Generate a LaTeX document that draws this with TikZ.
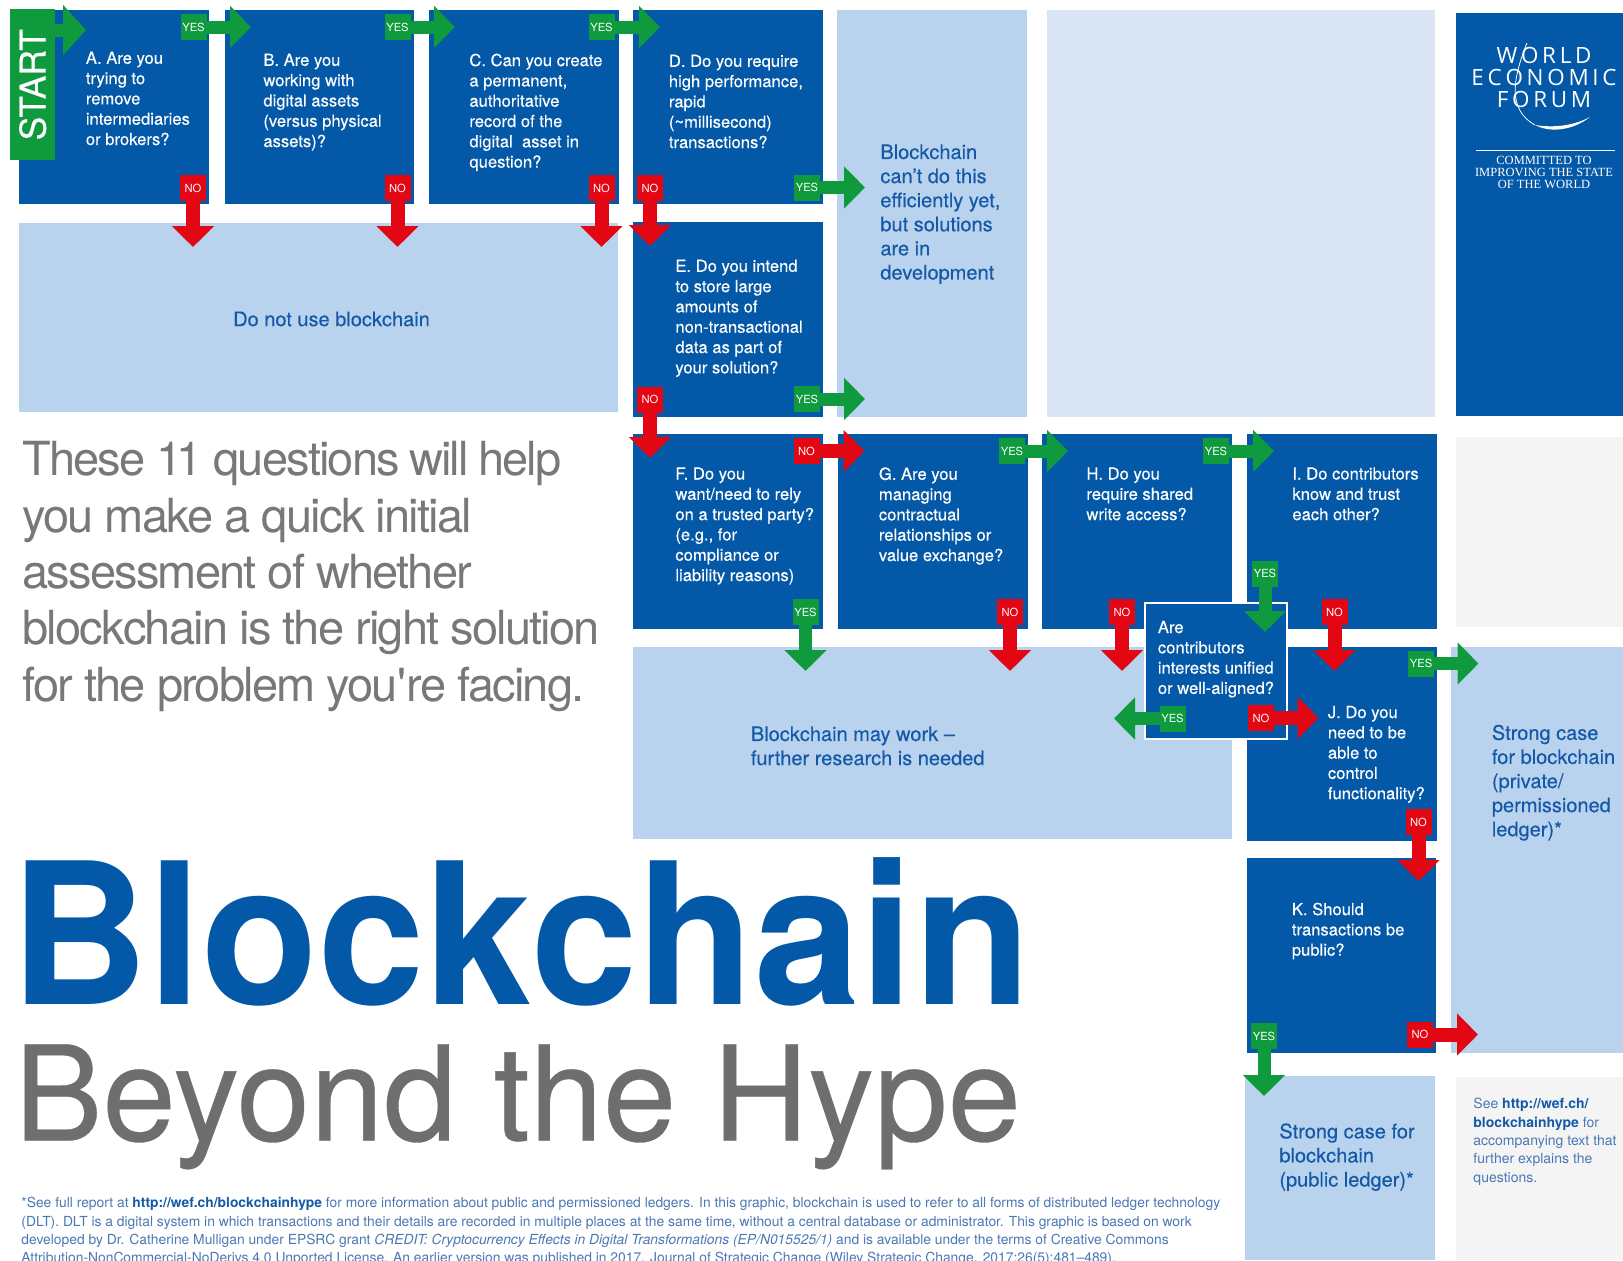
\documentclass[tikz,border=0pt]{standalone}
\usepackage{fontspec}
\usepackage{graphicx}
\setmainfont{TeX Gyre Heros}
\newfontfamily\medfont[FakeBold=0.25]{TeX Gyre Heros}
\newfontfamily\lightfont[LetterSpace=-3.9]{TeX Gyre Heros}
\newfontfamily\serifwef{Liberation Serif}
\newfontfamily\logofont{Open Sans}
\usetikzlibrary{arrows.meta}
\definecolor{wblue}{HTML}{0358A7}
\definecolor{wlight}{HTML}{B9D2EE}
\definecolor{wpale}{HTML}{DAE6F5}
\definecolor{wgray}{HTML}{F4F4F4}
\definecolor{wgreen}{HTML}{0F9A3E}
\definecolor{wred}{HTML}{E30613}
\definecolor{wtext}{HTML}{1459A8}
\definecolor{wgrey}{HTML}{6E6E6E}
\definecolor{wintro}{HTML}{787878}
\definecolor{wnote}{HTML}{4A78B4}
\tikzset{
 x=0.5pt,y=-0.5pt,
 cellbase/.style={rectangle,inner sep=0pt,outer sep=0pt,draw=none},
 qbox/.style={cellbase,fill=wblue},
 lbox/.style={cellbase,fill=wlight},
 pbox/.style={cellbase,fill=wpale},
 gbox/.style={cellbase,fill=wgray},
 arebox/.style={cellbase,fill=wblue,draw=white,line width=1.2pt},
 qtext/.style={anchor=north west,inner sep=0pt,align=left,text=white,font=\medfont\fontsize{8.3}{10.15}\selectfont},
 atext/.style={anchor=north west,inner sep=0pt,align=left,text=wtext,font=\medfont\fontsize{10}{12.05}\selectfont},
 yeslab/.style={cellbase,fill=wgreen,text=white,minimum width=13pt,minimum height=13pt,font=\fontsize{5.6}{6}\selectfont},
 nolab/.style={cellbase,fill=wred,text=white,minimum width=13pt,minimum height=13pt,font=\fontsize{5.6}{6}\selectfont},
 gconn/.style={draw=wgreen,line width=6.5pt,-{Triangle[length=10.5pt,width=20.5pt]}},
 rconn/.style={draw=wred,line width=7pt,-{Triangle[length=10.5pt,width=20.5pt]}},
}
\newcommand{\cell}[6]{%
 \pgfmathsetmacro\cw{(#5-#3)*0.5}\pgfmathsetmacro\ch{(#6-#4)*0.5}%
 \node[#1,minimum width=\cw pt,minimum height=\ch pt,anchor=north west] (#2) at (#3,#4) {};}
\newcommand{\yesarrow}[6]{%
 \node[yeslab] (#1) at (#2,#3) {YES};
 \coordinate (#1tip) at (#5,#6);
 \draw[gconn] (#1.#4) -- (#1tip);}
\newcommand{\noarrow}[6]{%
 \node[nolab] (#1) at (#2,#3) {NO};
 \coordinate (#1tip) at (#5,#6);
 \draw[rconn] (#1.#4) -- (#1tip);}
\begin{document}
\begin{tikzpicture}
\useasboundingbox[fill=white] (0,0) rectangle (1623,1260);
% answer areas
\cell{lbox}{donot}{19}{223}{618}{412}
\cell{lbox}{cant}{837}{10}{1027}{416.5}
\cell{pbox}{pale}{1047}{10}{1435}{416.5}
\cell{qbox}{wef}{1456}{13}{1623}{416}
\cell{gbox}{grayr}{1456}{437}{1623}{627}
\cell{lbox}{maywork}{633}{647}{1232}{839}
\cell{lbox}{private}{1450.5}{647}{1623}{1053}
\cell{lbox}{public}{1245}{1076}{1435}{1260}
\cell{gbox}{seebox}{1456}{1077}{1623}{1260}
% questions
\cell{qbox}{A}{19}{9.5}{209}{204}
\cell{qbox}{B}{224.5}{9.5}{414}{204}
\cell{qbox}{C}{429}{9.5}{619}{204}
\cell{qbox}{D}{633}{9.5}{823}{204}
\cell{qbox}{E}{633}{222}{823}{416.5}
\cell{qbox}{F}{633}{434}{823}{628.5}
\cell{qbox}{G}{837.5}{434}{1027.5}{628.5}
\cell{qbox}{H}{1042}{434}{1232}{628.5}
\cell{qbox}{I}{1247}{434}{1437}{628.5}
\cell{qbox}{J}{1247}{647}{1437}{841}
\cell{qbox}{K}{1247}{858}{1436}{1053}
\cell{arebox}{Are}{1145}{603}{1287}{739}
% question text
\node[qtext] (tA) at (85.5,51.3) {A. Are you\\trying to\\remove\\intermediaries\\or brokers?};
\node[qtext] (tB) at (263,53.3) {B. Are you\\working with\\digital assets\\(versus physical\\assets)?};
\node[qtext] (tC) at (469,53.3) {C. Can you create\\a permanent,\\authoritative\\record of the\\digital\ \ asset in\\question?};
\node[qtext] (tD) at (668.5,54.3) {D. Do you require\\high performance,\\rapid\\(\textasciitilde millisecond)\\transactions?};
\node[qtext] (tE) at (675,259.3) {E. Do you intend\\to store large\\amounts of\\non-transactional\\data as part of\\your solution?};
\node[qtext] (tF) at (675,467) {F. Do you\\want/need to rely\\on a trusted party?\\(e.g., for\\compliance or\\liability reasons)};
\node[qtext] (tG) at (878.5,467) {G. Are you\\managing\\contractual\\relationships or\\value exchange?};
\node[qtext] (tH) at (1086,467) {H. Do you\\require shared\\write access?};
\node[qtext] (tI) at (1292,467) {I. Do contributors\\know and trust\\each other?};
\node[qtext] (tAre) at (1157.5,620.5) {Are\\contributors\\interests unified\\or well-aligned?};
\node[qtext] (tJ) at (1327.5,705.5) {J. Do you\\need to be\\able to\\control\\functionality?};
\node[qtext] (tK) at (1291.5,902.3) {K. Should\\transactions be\\public?};
% answer text
\node[anchor=center,inner sep=0pt,text=wtext,font=\medfont\fontsize{10}{12}\selectfont] (tDonot) at (331.5,319) {Do not use blockchain};
\node[atext] (tCant) at (880,144) {Blockchain\\can’t do this\\efficiently yet,\\but solutions\\are in\\development};
\node[atext] (tMay) at (750.5,726) {Blockchain may work –\\further research is needed};
\node[atext] (tPriv) at (1491.5,724.5) {Strong case\\for blockchain\\(private/\\permissioned\\ledger)*};
\node[atext] (tPub) at (1279,1123) {Strong case for\\blockchain\\(public ledger)*};
\node[anchor=north west,inner sep=0pt,align=left,text=wnote,font=\fontsize{7}{9.15}\selectfont] (tSee) at (1473,1098) {See \textcolor{wtext}{\textbf{http://wef.ch/}}\\\textcolor{wtext}{\textbf{blockchainhype}} for\\accompanying text that\\further explains the\\questions.};
% start
\node[cellbase,fill=wgreen,text=white,rotate=90,minimum width=75.5pt,minimum height=22.5pt,font=\medfont\fontsize{17.8}{18}\selectfont] (start) at (32.7,84.7) {START};
\coordinate (starttip) at (86,30);
\coordinate (startout) at (55,30);
\draw[draw=wgreen,line width=6.5pt,-{Triangle[length=11.5pt,width=24.5pt]}] (startout) -- (starttip);
% arrows
\yesarrow{yA}{193.5}{27}{east}{251}{27}
\yesarrow{yB}{397.5}{27}{east}{455}{27}
\yesarrow{yC}{601.5}{27}{east}{660}{27}
\yesarrow{yD}{807}{187.5}{east}{865}{187.5}
\yesarrow{yE}{807}{399}{east}{865}{399}
\yesarrow{yG}{1012}{451}{east}{1068}{451}
\yesarrow{yH}{1216}{451}{east}{1274}{451}
\yesarrow{yF}{805.5}{612}{south}{805.5}{671}
\yesarrow{yI}{1265}{573.5}{south}{1265}{632}
\yesarrow{yAre}{1172.5}{718.5}{west}{1114}{718.5}
\yesarrow{yJ}{1421}{663.5}{east}{1478.5}{663.5}
\yesarrow{yK}{1264}{1036}{south}{1264}{1096}
\noarrow{nA}{193}{188}{south}{193}{247}
\noarrow{nB}{397.5}{188}{south}{397.5}{247}
\noarrow{nC}{601.5}{188}{south}{601.5}{247}
\noarrow{nD}{650}{188}{south}{650}{246}
\noarrow{nE}{650}{399.5}{south}{650}{458}
\noarrow{nF}{806.5}{451}{east}{864.5}{451}
\noarrow{nG}{1010}{612}{south}{1010}{671}
\noarrow{nH}{1122}{612}{south}{1122}{671}
\noarrow{nI}{1334.5}{612}{south}{1334.5}{671}
\noarrow{nAre}{1261}{718}{east}{1318.5}{718}
\noarrow{nJ}{1418.5}{822}{south}{1418.5}{881}
\noarrow{nK}{1420}{1034.5}{east}{1478}{1034.5}
% WEF logo
\node[anchor=center,inner sep=0pt,text=white,align=center,font=\logofont\fontsize{11.2}{11}\selectfont] (wefl1) at (1544,55) {W\,O\,R\,L\,D};
\node[anchor=center,inner sep=0pt,text=white,align=center,font=\logofont\fontsize{11.2}{11}\selectfont] (wefl2) at (1544,77.5) {E\,C\,O\,N\,O\,M\,I\,C};
\node[anchor=center,inner sep=0pt,text=white,align=center,font=\logofont\fontsize{11.2}{11}\selectfont] (wefl3) at (1544,99) {F\,O\,R\,U\,M};
\draw[white,line width=0.4pt] (1527,43) .. controls (1512,80) and (1508,110) .. (1535,125);
\fill[white] (1535,125) .. controls (1552,134) and (1575,129) .. (1590,117) .. controls (1573,126) and (1553,128) .. (1535,125) -- cycle;
\draw[white,line width=0.6pt] (1476,150.7) -- (1615,150.7);
\node[anchor=north,inner sep=0pt,text=white,align=center,font=\serifwef\fontsize{6.25}{5.95}\selectfont] (weft) at (1544,156) {COMMITTED TO\\IMPROVING THE STATE\\OF THE WORLD};
% intro
\node[anchor=north west,inner sep=0pt,align=left,text=wintro,font=\lightfont\fontsize{23.5}{28.2}\selectfont] (intro) at (22,441) {These 1\kern-3.5pt 1 questions\kern-1pt\ will\kern-1pt\ help\\you make a quick initial\\assessment of whether\\blockchain is the right solution\\for the problem you\textquotesingle re facing.};
% title
\node[anchor=base west,inner sep=0pt,text=wblue,font=\bfseries\fontsize{98.6}{100}\selectfont] (title) at (10,1004) {\scalebox{0.969}[1]{Blockchain}};
\node[anchor=base west,inner sep=0pt,text=wgrey,font=\medfont\fontsize{66}{67}\selectfont] (subtitle) at (14,1140.5) {Beyond the Hype};
% footnote
\node[anchor=north west,inner sep=0pt,align=left,text=wnote,font=\fontsize{6.92}{9.15}\selectfont] (foot) at (21,1197) {*See full report at \textcolor{wtext}{\textbf{http://wef.ch/blockchainhype}} for more information about public and permissioned ledgers. In this graphic, blockchain is used to refer to all forms of distributed ledger technology\\(DLT). DLT is a digital system in which transactions and their details are recorded in multiple places at the same time, without a central database or administrator. This graphic is based on work\\developed by Dr. Catherine Mulligan under EPSRC grant \textit{CREDIT: Cryptocurrency Effects in Digital Transformations (EP/N015525/1)} and is available under the terms of Creative Commons\\Attribution-NonCommercial-NoDerivs 4.0 Unported License. An earlier version was published in 2017. Journal of Strategic Change (Wiley Strategic Change. 2017;26(5):481--489).};
\end{tikzpicture}
\end{document}
